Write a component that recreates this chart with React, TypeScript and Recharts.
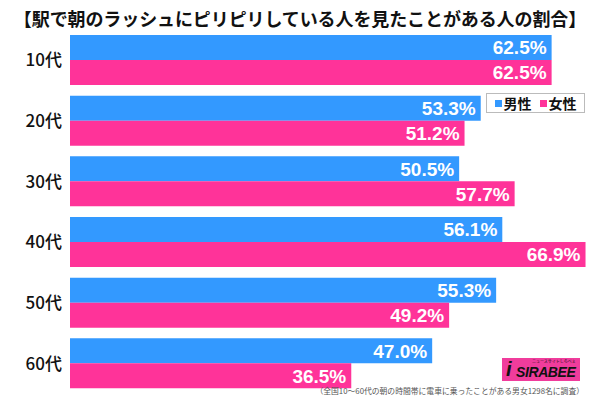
import { BarChart, Bar, XAxis, YAxis, LabelList } from "recharts";

const ages = ["10代", "20代", "30代", "40代", "50代", "60代"];
const male = [62.5, 53.3, 50.5, 56.1, 55.3, 47.0];
const female = [62.5, 51.2, 57.7, 66.9, 49.2, 36.5];

const BLUE = "#3399ff";
const PINK = "#ff3399";
const JP = "'Noto Sans CJK JP', 'Noto Sans', sans-serif";

const data = ages.map((age, i) => ({ age, male: male[i], female: female[i] }));

const fmt = (v: any) => `${Number(v).toFixed(1)}%`;

export default function App() {
  return (
    <div style={{ position: "absolute", left: 0, top: 0, width: 600, height: 401, background: "#fff", overflow: "hidden" }}>
      <div
        style={{
          position: "absolute", left: 0, top: 5, width: 600, textAlign: "center",
          fontFamily: JP, fontWeight: 700, fontSize: 18, color: "#111", letterSpacing: -0.1,
        }}
      >
        【駅で朝のラッシュにピリピリしている人を見たことがある人の割合】
      </div>
      <BarChart
        width={600}
        height={401}
        data={data}
        layout="vertical"
        margin={{ top: 30, right: 6, bottom: 7, left: 0 }}
        barCategoryGap={5}
        barGap={0}
      >
        <XAxis type="number" domain={[0, 68]} hide />
        <YAxis
          type="category"
          dataKey="age"
          width={70}
          axisLine={false}
          tickLine={false}
          tick={{ fontSize: 17, fill: "#111", fontFamily: JP, fontWeight: 500 }}
        />
        <Bar dataKey="male" fill={BLUE} isAnimationActive={false}>
          <LabelList dataKey="male" position="insideRight" offset={5} formatter={fmt}
            style={{ fill: "#fff", fontSize: 19, fontWeight: 700, fontFamily: "'Liberation Sans', Arial, sans-serif" }} />
        </Bar>
        <Bar dataKey="female" fill={PINK} isAnimationActive={false}>
          <LabelList dataKey="female" position="insideRight" offset={5} formatter={fmt}
            style={{ fill: "#fff", fontSize: 19, fontWeight: 700, fontFamily: "'Liberation Sans', Arial, sans-serif" }} />
        </Bar>
      </BarChart>
      <div
        style={{
          position: "absolute", left: 486, top: 93, width: 99, height: 20, boxSizing: "border-box",
          border: "1px solid #bbb", background: "#fff", display: "flex", alignItems: "center",
          justifyContent: "center", gap: 8, fontFamily: JP, fontWeight: 700, fontSize: 14, color: "#111",
        }}
      >
        <span style={{ display: "flex", alignItems: "center", gap: 2 }}>
          <span style={{ width: 7, height: 7, background: BLUE, display: "inline-block" }} />男性
        </span>
        <span style={{ display: "flex", alignItems: "center", gap: 2 }}>
          <span style={{ width: 7, height: 7, background: PINK, display: "inline-block" }} />女性
        </span>
      </div>
      <div
        style={{
          position: "absolute", left: 502, top: 358, width: 78, height: 23, background: "#f03c9c",
          fontFamily: "'Liberation Sans', Arial, sans-serif", lineHeight: 1,
        }}
      >
        <div style={{ position: "absolute", left: 4, top: 1, fontSize: 20, fontWeight: 900, fontStyle: "italic", color: "#111" }}>i</div>
        <div style={{ position: "absolute", left: 30, top: 1, fontSize: 4, color: "#111", fontFamily: JP, whiteSpace: "nowrap" }}>ニュースサイトしらべぇ</div>
        <div style={{ position: "absolute", left: 14, top: 7, fontSize: 14, fontWeight: 900, fontStyle: "italic", color: "#111", letterSpacing: -0.4 }}>SIRABEE</div>
      </div>
      <div
        style={{
          position: "absolute", right: 16, top: 387, fontFamily: JP, fontSize: 7.8, color: "#555", whiteSpace: "nowrap", lineHeight: 1,
        }}
      >
        （全国10～60代の朝の時間帯に電車に乗ったことがある男女1298名に調査）
      </div>
    </div>
  );
}
